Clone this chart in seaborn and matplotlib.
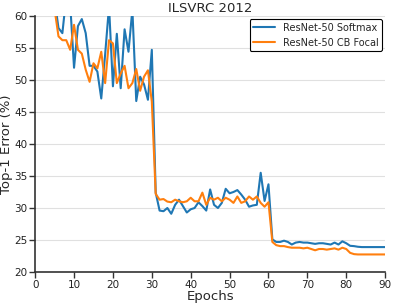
import matplotlib
matplotlib.use('Agg')
import matplotlib.pyplot as plt
import seaborn as sns
import numpy as np
import pandas as pd

# values, epochs 1..90
epochs = list(range(1, 91))

softmax_err = [85, 75, 69, 65, 62.5, 58.1, 57.3, 63, 62, 51.9,
               58.4, 59.5, 57.3, 52.2, 52.2, 51.3, 47.1, 54, 61.5, 49.0,
               57.2, 48.7, 57.9, 54.4, 61, 46.7, 50.5, 49.3, 46.9, 54.7,
               32.4, 29.6, 29.5, 30.0, 29.1, 30.5, 31.3, 30.3, 29.3, 29.8,
               30.0, 30.9, 30.3, 29.6, 32.9, 30.5, 30.0, 30.8, 33.0, 32.3,
               32.5, 32.8, 32.1, 31.3, 30.2, 30.4, 30.5, 35.5, 31.1, 33.7,
               25.1, 24.7, 24.7, 24.9, 24.7, 24.3, 24.6, 24.7, 24.6, 24.6,
               24.5, 24.4, 24.5, 24.5, 24.4, 24.3, 24.6, 24.3, 24.8, 24.5,
               24.1, 24.05, 23.95, 23.9, 23.9, 23.9, 23.9, 23.9, 23.9, 23.9]

cb_focal_err = [88, 78, 70, 65, 61, 56.8, 56.2, 56.2, 54.7, 58.6,
                54.7, 54.1, 51.6, 49.7, 52.6, 51.8, 54.4, 49.5, 56.2, 55.7,
                49.5, 51.0, 52.2, 48.7, 49.5, 51.7, 48.3, 50.5, 51.5, 46.6,
                32.2, 31.3, 31.4, 31.0, 30.9, 31.3, 31.05, 30.9, 31.05, 31.6,
                31.05, 31.05, 32.4, 30.5, 31.6, 31.3, 31.6, 31.05, 31.6, 31.3,
                30.8, 31.8, 30.8, 31.05, 31.8, 31.3, 31.8, 30.8, 30.2, 30.9,
                24.7, 24.2, 24.05, 24.05, 23.9, 23.8, 23.8, 23.8, 23.7, 23.8,
                23.6, 23.4, 23.6, 23.6, 23.5, 23.6, 23.7, 23.5, 23.8, 23.6,
                23.0, 22.8, 22.75, 22.75, 22.75, 22.75, 22.75, 22.75, 22.75, 22.75]

labels = ['ResNet-50 Softmax', 'ResNet-50 CB Focal']

df = pd.DataFrame({
    'epoch': epochs * 2,
    'err': softmax_err + cb_focal_err,
    'model': [labels[0]] * len(epochs) + [labels[1]] * len(epochs),
})

sns.set_style('ticks')
plt.rcParams['font.family'] = ['DejaVu Sans']

fig = plt.figure(figsize=(3.95, 3.05), dpi=100)
ax = fig.add_axes([0.089, 0.108, 0.886, 0.84])

sns.lineplot(data=df, x='epoch', y='err', hue='model', hue_order=labels,
             palette=['#1f77b4', '#ff7f0e'], linewidth=1.5, ax=ax)

ax.set_xlim(0, 90)
ax.set_ylim(20, 60)
ax.set_xticks(np.arange(0, 91, 10))
ax.set_yticks(np.arange(20, 61, 5))
ax.tick_params(labelsize=7.5, length=4, width=1, pad=1.5, color='#333333',
               labelcolor='#222222')
ax.yaxis.grid(True, color='#e0e0e0', linewidth=0.8)
ax.set_axisbelow(True)
sns.despine(ax=ax)
for s in ['left', 'bottom']:
    ax.spines[s].set_color('#333333')
    ax.spines[s].set_linewidth(1.2)

ax.set_title('ILSVRC 2012', fontsize=9.5, pad=3)
ax.set_xlabel('Epochs', fontsize=9.5, labelpad=0)
ax.set_ylabel('Top-1 Error (%)', fontsize=9.5, labelpad=1)

leg = ax.legend(loc='upper right', fontsize=7, frameon=True, fancybox=True,
                handlelength=2.2, borderaxespad=0.3, framealpha=1)
leg.get_frame().set_edgecolor('black')
leg.get_frame().set_linewidth(0.8)

fig.savefig('out.png', dpi=100)
